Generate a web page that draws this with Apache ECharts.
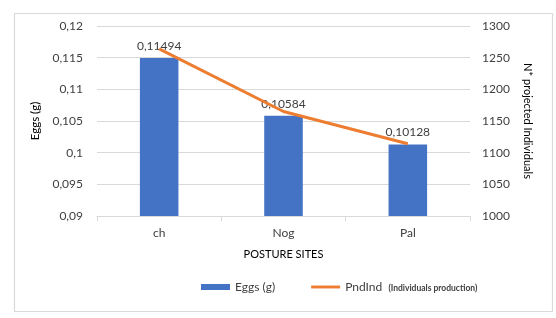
<!DOCTYPE html>
<html><head><meta charset="utf-8">
<script src="https://cdn.jsdelivr.net/npm/echarts@6/dist/echarts.min.js"></script>
<style>html,body{margin:0;padding:0;background:#fff}#c{width:556px;height:318px}</style>
</head><body><div id="c"></div>
<script>
const categories = ['ch', 'Nog', 'Pal'];
const eggs = [0.11494, 0.10584, 0.10128];
const pndInd = [1264, 1165, 1114];
const leftTicks = { min: 0.09, max: 0.12, interval: 0.005 };
const rightTicks = { min: 1000, max: 1300, interval: 50 };

const FONT = 'Lato, "Open Sans", sans-serif';
const fmtNum = v => String(parseFloat(Number(v).toFixed(5))).replace('.', ',');

const chart = echarts.init(document.getElementById('c'), null, { renderer: 'canvas' });
chart.setOption({
  animation: false,
  backgroundColor: '#fff',
  textStyle: { fontFamily: FONT },
  graphic: [{
    type: 'rect', left: 12, top: 11, silent: true,
    shape: { width: 538, height: 298 },
    style: { fill: 'none', stroke: '#d9d9d9', lineWidth: 1.2 }
  }],
  grid: { left: 97, right: 86, top: 26, bottom: 102 },
  legend: {
    bottom: 20, left: 196, itemGap: 36, itemWidth: 29, itemHeight: 6,
    textStyle: { fontFamily: FONT, fontSize: 12, color: '#404040',
      rich: { s: { fontSize: 8.5, fontWeight: 'bold', color: '#404040', fontFamily: FONT, padding: [2, 0, 0, 0] } } },
    formatter: n => n === 'PndInd' ? 'PndInd  {s|(Individuals production)}' : n,
    data: [
      { name: 'Eggs (g)', icon: 'rect' },
      { name: 'PndInd', icon: 'path://M0,0 L30,0 L30,3 L0,3 Z' }
    ]
  },
  xAxis: {
    type: 'category', data: categories,
    name: 'POSTURE SITES', nameLocation: 'middle', nameGap: 33,
    nameTextStyle: { fontSize: 11, color: '#000', fontFamily: FONT },
    axisLine: { lineStyle: { color: '#d9d9d9' } },
    axisTick: { show: true, length: 5, lineStyle: { color: '#d9d9d9' } },
    axisLabel: { fontSize: 12, color: '#404040', margin: 11 }
  },
  yAxis: [{
    type: 'value', min: leftTicks.min, max: leftTicks.max, interval: leftTicks.interval,
    name: 'Eggs (g)', nameLocation: 'middle', nameRotate: 90, nameGap: 52,
    nameTextStyle: { fontSize: 11.5, color: '#000', fontFamily: FONT },
    axisLine: { show: false }, axisTick: { show: false },
    splitLine: { lineStyle: { color: '#d9d9d9' } },
    axisLabel: { fontSize: 12, color: '#404040', margin: 14, formatter: v => fmtNum(v) }
  }, {
    type: 'value', min: rightTicks.min, max: rightTicks.max, interval: rightTicks.interval,
    name: 'N* projected Individuals', nameLocation: 'middle', nameRotate: -90, nameGap: 52,
    nameTextStyle: { fontSize: 11, color: '#000', fontFamily: FONT },
    axisLine: { show: false }, axisTick: { show: false },
    splitLine: { show: false },
    axisLabel: { fontSize: 12, color: '#404040', margin: 12, formatter: v => String(v) }
  }],
  series: [{
    name: 'Eggs (g)', type: 'bar', data: eggs, barWidth: '31%',
    itemStyle: { color: '#4472C4' },
    label: { show: true, position: 'top', distance: 6, fontSize: 12, color: '#404040', formatter: p => fmtNum(p.value) }
  }, {
    name: 'PndInd', type: 'line', yAxisIndex: 1, data: pndInd,
    showSymbol: false, symbol: 'none', z: 3,
    lineStyle: { color: '#ED7D31', width: 3 }, itemStyle: { color: '#ED7D31' }
  }]
});
</script></body></html>
